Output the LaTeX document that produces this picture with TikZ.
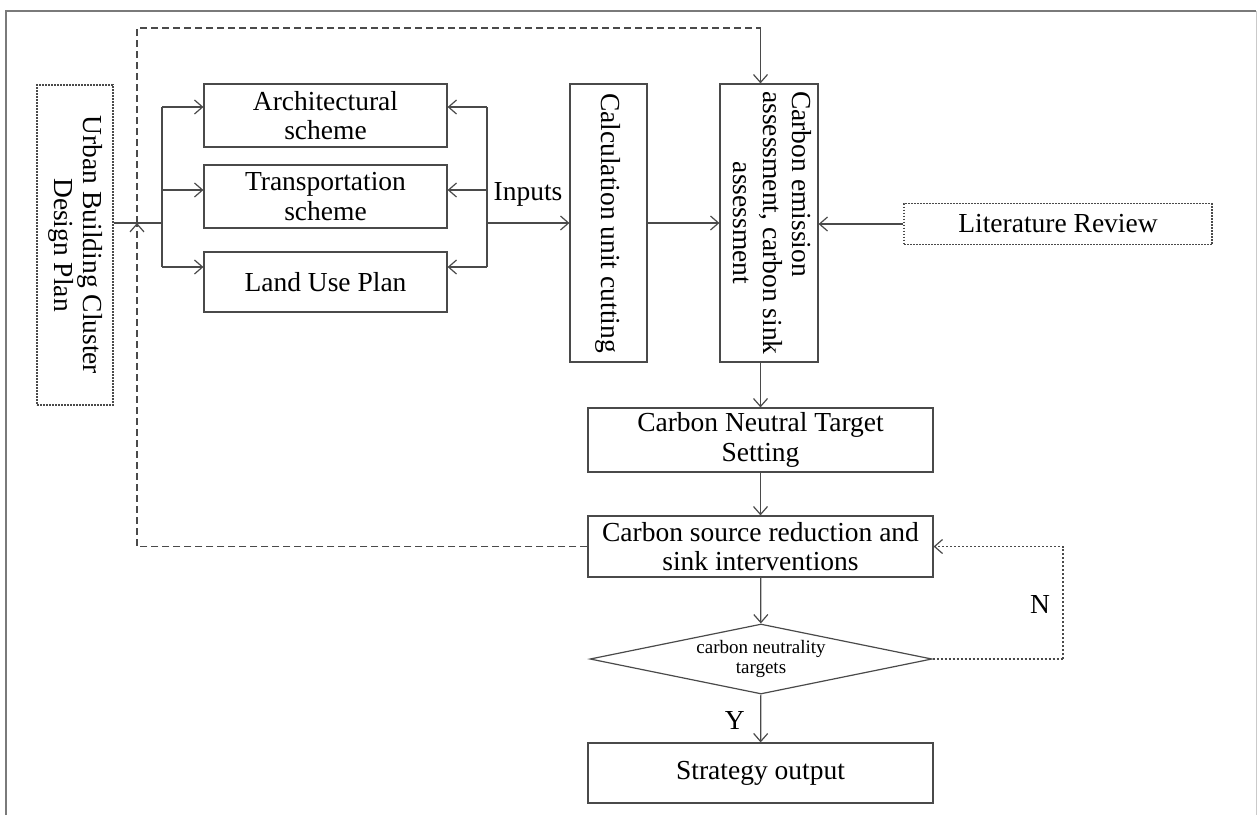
\documentclass[tikz,border=0pt]{standalone}
\usepackage{fontspec}
\setmainfont{Liberation Serif}
\usepackage{xcolor}
\usepackage{graphicx}
\usepackage{tikz}
\usetikzlibrary{shapes.geometric}
\usetikzlibrary {arrows.meta}

\definecolor{linegray}{HTML}{4A4A4A}
\definecolor{framegray}{HTML}{7A7A7A}

\tikzset{
  box/.style={draw=linegray, line width=1.2pt, inner sep=0pt, align=center},
  dotbox/.style={box, dash pattern=on 1.6pt off 1.4pt},
  flow/.style={draw=linegray, line width=1.2pt},
  tip/.style={-{Straight Barb[length=8pt,width=14pt,line width=1.2pt]}},
  loopline/.style={flow, dash pattern=on 7pt off 4pt},
  dotline/.style={flow, dash pattern=on 2pt off 2pt}
}

\begin{document}
\begin{tikzpicture}[x=1pt, y=-1pt, font=\fontsize{27.5}{29.5}\selectfont]
  \useasboundingbox (0,0) rectangle (1258,815);
  \draw[framegray, line width=1.6pt] (6,815) -- (6,11) -- (1256,11);
  \draw[framegray!40, line width=1pt] (1256,11) -- (1256,815);

  \node[dotbox, minimum width=76pt, minimum height=320pt] (urban) at (75,245)
    {\rotatebox{-90}{\begin{tabular}{@{}c@{}}Urban Building Cluster\\Design Plan\end{tabular}}};

  \node[box, minimum width=243pt, minimum height=63pt] (arch) at (325.5,115.5) {Architectural\\scheme};
  \node[box, minimum width=243pt, minimum height=63pt] (trans) at (325.5,196.5) {Transportation\\scheme};
  \node[box, minimum width=243pt, minimum height=60pt] (land) at (325.5,282) {Land Use Plan};

  \node[box, minimum width=77pt, minimum height=278pt] (calc) at (608.5,223)
    {\rotatebox{-90}{Calculation unit cutting}};
  \node[box, minimum width=98pt, minimum height=278pt] (emis) at (769,223)
    {\rotatebox{-90}{\begin{tabular}{@{}c@{}}\multicolumn{1}{@{}l@{}}{Carbon emission}\\assessment, carbon sink\\assessment\end{tabular}}};
  \node[dotbox, minimum width=308pt, minimum height=41pt] (lit) at (1058,224) {Literature Review};

  \node[box, minimum width=345pt, minimum height=64pt] (target) at (760.5,440) {Carbon Neutral Target\\Setting};
  \node[box, minimum width=345pt, minimum height=61pt] (source) at (760.5,546.5) {Carbon source reduction and\\sink interventions};
  \node[box, diamond, minimum width=342pt, minimum height=70pt, aspect=4.9,
    font=\fontsize{19}{20.5}\selectfont] (check) at (761,659) {carbon neutrality\\targets};
  \node[box, minimum width=345pt, minimum height=60pt] (output) at (760.5,773) {Strategy output};

  \coordinate (r1) at (0,107);
  \coordinate (r2) at (0,190);
  \coordinate (r3) at (0,267);
  \coordinate (busL) at (162,223);
  \coordinate (busR) at (487,223);
  \coordinate (cross) at (137,223);
  \coordinate (fbTop) at (137,28);
  \coordinate (nturn) at (1063,659);

  \draw[flow] (busL -| urban.east) -- (busL);
  \draw[flow] (busL |- r1) -- (busL |- r3);
  \draw[flow, tip] (busL |- r1) -- (r1 -| arch.west);
  \draw[flow, tip] (busL |- r2) -- (r2 -| trans.west);
  \draw[flow, tip] (busL |- r3) -- (r3 -| land.west);

  \draw[flow] (busR |- r1) -- (busR |- r3);
  \draw[flow, tip] (busR |- r1) -- (r1 -| arch.east);
  \draw[flow, tip] (busR |- r2) -- (r2 -| trans.east);
  \draw[flow, tip] (busR |- r3) -- (r3 -| land.east);
  \draw[flow, tip] (busR) -- (calc.west);
  \node (inputs) at (528,194) {Inputs};

  \draw[flow, tip] (calc) -- (emis);
  \draw[flow, tip] (lit.west) -- (lit.west -| emis.east);
  \draw[flow, tip] (emis.south -| target.north) -- (target.north);
  \draw[flow, tip] (target) -- (source);
  \draw[flow, tip] (source) -- (check);
  \draw[flow, tip] (check) -- (output) node[midway, left=12pt, yshift=-2pt] (yes) {Y};

  \draw[dotline] (check.east) -- (nturn);
  \draw[dotline, tip] (nturn) |- (source.east);
  \node (no) at (1040,604) {N};

  \draw[loopline, tip] (source.west) -| (cross);
  \draw[loopline] (cross) -- (fbTop) -- (fbTop -| target.north);
  \draw[flow, tip] (fbTop -| target.north) -- (target.north |- emis.north);
\end{tikzpicture}
\end{document}
